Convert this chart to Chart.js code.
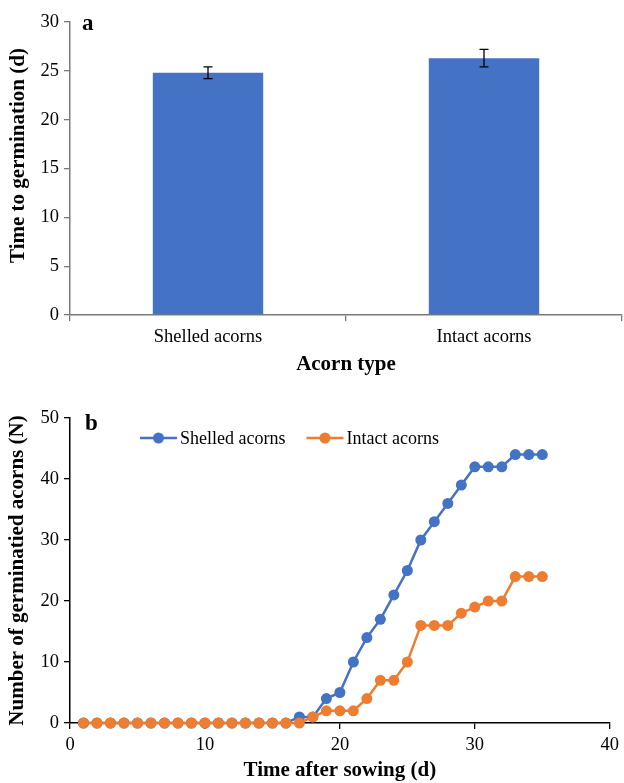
<!DOCTYPE html>
<html><head><meta charset="utf-8">
<script src="https://cdn.jsdelivr.net/npm/chart.js@4.4.0/dist/chart.umd.min.js"></script>
<style>
html,body{margin:0;padding:0;background:#fff;}
#wa{position:absolute;left:0;top:0;width:624px;height:385px;}
#wb{position:absolute;left:0;top:385px;width:624px;height:398px;}
</style></head><body>
<div id="wa"><canvas id="ca" width="624" height="385"></canvas></div>
<div id="wb"><canvas id="cb" width="624" height="398"></canvas></div>
<script>
// ---- Panel a data ----
const barCategories = ['Shelled acorns', 'Intact acorns'];
const barMeans = [24.8, 26.3];
const barErrors = [0.6, 0.9];
const barYTicks = [0, 5, 10, 15, 20, 25, 30];

// ---- Panel b data ----
const days = [1,2,3,4,5,6,7,8,9,10,11,12,13,14,15,16,17,18,19,20,21,22,23,24,25,26,27,28,29,30,31,32,33,34,35];
const shelledCounts = [0,0,0,0,0,0,0,0,0,0,0,0,0,0,0,0,1,1,4,5,10,14,17,21,25,30,33,36,39,42,42,42,44,44,44];
const intactCounts  = [0,0,0,0,0,0,0,0,0,0,0,0,0,0,0,0,0,1,2,2,2,4,7,7,10,16,16,16,18,19,20,20,24,24,24];
const lineXTicks = [0, 10, 20, 30, 40];
const lineYTicks = [0, 10, 20, 30, 40, 50];

const BLUE = '#4472C4';
const ORANGE = '#ED7D31';
const AXIS = '#7a7a7a';
const SERIF = "'Liberation Serif', 'Times New Roman', serif";

const tickFont = {family: SERIF, size: 18.5};
const titleFont = {family: SERIF, size: 21, weight: 'bold'};

const errorBarPlugin = {
  id: 'errorBars',
  afterDatasetsDraw(chart) {
    const meta = chart.getDatasetMeta(0);
    const y = chart.scales.y;
    const ctx = chart.ctx;
    ctx.save();
    ctx.strokeStyle = '#000';
    ctx.lineWidth = 1.3;
    meta.data.forEach((bar, i) => {
      const top = y.getPixelForValue(barMeans[i] + barErrors[i]);
      const bot = y.getPixelForValue(barMeans[i] - barErrors[i]);
      ctx.beginPath();
      ctx.moveTo(bar.x, top); ctx.lineTo(bar.x, bot);
      ctx.moveTo(bar.x - 4.5, top); ctx.lineTo(bar.x + 4.5, top);
      ctx.moveTo(bar.x - 4.5, bot); ctx.lineTo(bar.x + 4.5, bot);
      ctx.stroke();
    });
    ctx.restore();
  }
};

function letterPlugin(letter, dx, dy) {
  return {
    id: 'letter' + letter,
    afterDraw(chart) {
      const ctx = chart.ctx, a = chart.chartArea;
      ctx.save();
      ctx.font = "bold 23px " + SERIF;
      ctx.fillStyle = '#000';
      ctx.textBaseline = 'alphabetic';
      ctx.fillText(letter, a.left + dx, a.top + dy);
      ctx.restore();
    }
  };
}

const yTitleA = {
  id: 'yTitleA',
  afterDraw(chart) {
    const ctx = chart.ctx, a = chart.chartArea;
    ctx.save();
    ctx.translate(19, (a.top + a.bottom) / 2 - 13);
    ctx.rotate(-Math.PI / 2);
    ctx.font = "bold 21px " + SERIF;
    ctx.fillStyle = '#000';
    ctx.textAlign = 'center';
    ctx.textBaseline = 'middle';
    ctx.fillText('Time to germination (d)', 0, 0);
    ctx.restore();
  }
};

new Chart(document.getElementById('ca'), {
  type: 'bar',
  data: {
    labels: barCategories,
    datasets: [{data: barMeans, backgroundColor: BLUE, categoryPercentage: 0.4, barPercentage: 1}]
  },
  options: {
    responsive: false, animation: false, devicePixelRatio: 1,
    layout: {padding: {top: 22, right: 2, left: 0, bottom: 0}},
    plugins: {legend: {display: false}, tooltip: {enabled: false}},
    scales: {
      x: {
        grid: {display: true, drawOnChartArea: false, offset: true, tickLength: 6, color: AXIS, lineWidth: 1.3},
        border: {color: AXIS, width: 1.5},
        ticks: {color: '#000', font: tickFont, padding: 5},
        title: {display: true, text: 'Acorn type', font: titleFont, color: '#000', padding: {top: 0, bottom: 8}},
        afterFit(s) { s.height = 70; }
      },
      y: {
        min: 0, max: 30,
        afterBuildTicks(s) { s.ticks = barYTicks.map(v => ({value: v})); },
        grid: {display: true, drawOnChartArea: false, tickLength: 6, color: AXIS, lineWidth: 1.3},
        border: {color: AXIS, width: 1.5},
        ticks: {color: '#000', font: tickFont, padding: 5},
        title: {display: false},
        afterFit(s) { s.width = 70; }
      }
    }
  },
  plugins: [errorBarPlugin, letterPlugin('a', 12, 8), yTitleA]
});

const lineLegendPlugin = {
  id: 'lineLegend',
  afterDraw(chart) {
    const ctx = chart.ctx, a = chart.chartArea;
    const y = a.top + 20;
    let x = a.left + 70;
    ctx.save();
    ctx.font = "18px " + SERIF;
    ctx.textBaseline = 'middle';
    const items = chart.data.datasets.slice().sort((p, q) => p.legendIndex - q.legendIndex);
    items.forEach(ds => {
      ctx.strokeStyle = ds.borderColor; ctx.lineWidth = 2.5;
      ctx.beginPath(); ctx.moveTo(x, y); ctx.lineTo(x + 37, y); ctx.stroke();
      ctx.fillStyle = ds.backgroundColor;
      ctx.beginPath(); ctx.arc(x + 18.5, y, 5.5, 0, Math.PI * 2); ctx.fill();
      ctx.fillStyle = '#000';
      ctx.fillText(ds.label, x + 40, y + 1);
      x += 40 + ctx.measureText(ds.label).width + 21;
    });
    ctx.restore();
  }
};

new Chart(document.getElementById('cb'), {
  type: 'line',
  data: {
    datasets: [
      {label: 'Shelled acorns', legendIndex: 0, order: 1,
       data: days.map((d, i) => ({x: d, y: shelledCounts[i]})),
       borderColor: BLUE, backgroundColor: BLUE, borderWidth: 2.5,
       pointRadius: 5.5, pointBorderWidth: 0, pointBackgroundColor: BLUE, tension: 0, clip: false},
      {label: 'Intact acorns', legendIndex: 1, order: 0,
       data: days.map((d, i) => ({x: d, y: intactCounts[i]})),
       borderColor: ORANGE, backgroundColor: ORANGE, borderWidth: 2.5,
       pointRadius: 5.5, pointBorderWidth: 0, pointBackgroundColor: ORANGE, tension: 0, clip: false}
    ]
  },
  options: {
    responsive: false, animation: false, devicePixelRatio: 1,
    layout: {padding: {top: 33, right: 11, left: 0, bottom: 0}},
    plugins: {legend: {display: false}, tooltip: {enabled: false}},
    scales: {
      x: {
        type: 'linear', min: 0, max: 40,
        afterBuildTicks(s) { s.ticks = lineXTicks.map(v => ({value: v})); },
        grid: {display: true, drawOnChartArea: false, tickLength: 6, color: '#000', lineWidth: 1.3},
        border: {color: '#000', width: 1.5},
        ticks: {color: '#000', font: tickFont, padding: 5},
        title: {display: true, text: 'Time after sowing (d)', font: titleFont, color: '#000', padding: {top: 0, bottom: 0}},
        afterFit(s) { s.height = 60; }
      },
      y: {
        min: 0, max: 50,
        afterBuildTicks(s) { s.ticks = lineYTicks.map(v => ({value: v})); },
        grid: {display: true, drawOnChartArea: false, tickLength: 6, color: '#000', lineWidth: 1.3},
        border: {color: '#000', width: 1.5},
        ticks: {color: '#000', font: tickFont, padding: 5},
        title: {display: true, text: 'Number of germinatied acorns (N)', font: titleFont, color: '#000', padding: {top: 5, bottom: 0}},
        afterFit(s) { s.width = 70; }
      }
    }
  },
  plugins: [lineLegendPlugin, letterPlugin('b', 15, 12)]
});
</script>
</body></html>
